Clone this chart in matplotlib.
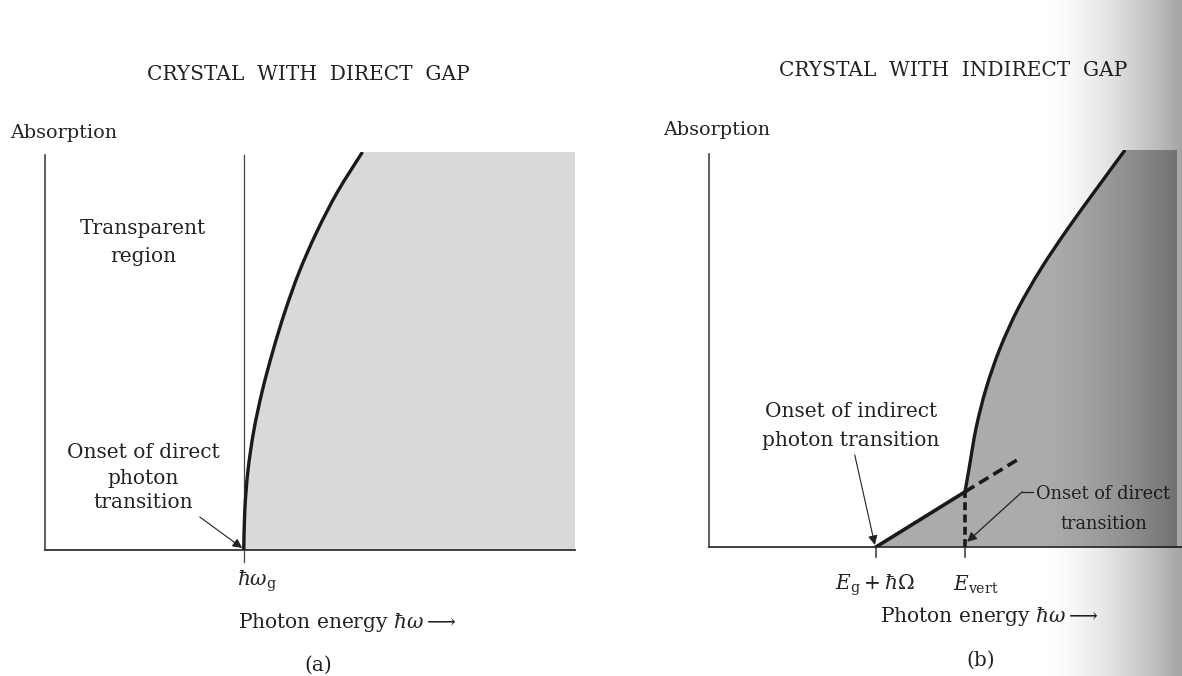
import numpy as np
import matplotlib
matplotlib.use("Agg")
import matplotlib.pyplot as plt
from matplotlib.path import Path
from matplotlib.patches import PathPatch

# Absorption curves (photon energy in arbitrary units, absorption 0..10)
# (a) direct gap
direct_gap = 3.75
direct_e = [3.75, 3.77, 3.83, 3.94, 4.10, 4.30, 4.53, 4.80, 5.13, 5.52, 5.99]
direct_a = [0.0, 1.0, 2.0, 3.0, 4.0, 5.0, 6.0, 7.0, 8.0, 9.0, 10.0]
direct_emax = 10.0

# (b) indirect gap
indirect_onset = 3.15           # E_g + hbar*Omega
e_vert = 4.83
indirect_e = [3.15, 4.83]
indirect_a = [0.00, 1.39]
phonon_ext_e = [4.83, 5.81]     # dashed continuation of the indirect branch
phonon_ext_a = [1.39, 2.19]
vert_e = [4.83, 4.91, 5.04, 5.23, 5.49, 5.83, 6.26, 6.76, 7.30, 7.85]
vert_a = [1.39, 2.0, 3.0, 4.0, 5.0, 6.0, 7.0, 8.0, 9.0, 10.0]
indirect_emax = 8.83

W, H = 1182, 676
plt.rcParams['font.family'] = ['DejaVu Serif']
plt.rcParams['mathtext.fontset'] = 'dejavuserif'
FS = 14.5

fig = plt.figure(figsize=(W / 100, H / 100), dpi=100)
fig.patch.set_facecolor('white')


def fx(x):
    return x / W


def fy(y):
    return 1 - y / H


def txt(x, y, s, **kw):
    kw.setdefault('fontsize', FS)
    kw.setdefault('va', 'center')
    fig.text(fx(x), fy(y), s, color='#222222', **kw)


def smooth_verts(xs, ys):
    # Bezier segments through the read points (Catmull-Rom tangents)
    p = np.column_stack([xs, ys]).astype(float)
    q = np.vstack([p[0], p, p[-1]])
    verts = [p[0]]
    codes = [Path.MOVETO]
    for i in range(1, len(q) - 2):
        c1 = q[i] + (q[i + 1] - q[i - 1]) / 6
        c2 = q[i + 1] - (q[i + 2] - q[i]) / 6
        verts += [c1, c2, q[i + 1]]
        codes += [Path.CURVE4] * 3
    return verts, codes


def curve_and_fill(ax, xs, ys, start, corners, fill_color, lw):
    v, c = smooth_verts(xs, ys)
    line = Path(v, c)
    if start is not None:
        fv = [start, v[0]] + v[1:]
        fc = [Path.MOVETO, Path.LINETO] + c[1:]
    else:
        fv, fc = list(v), list(c)
    for pt in corners:
        fv.append(pt)
        fc.append(Path.LINETO)
    fv.append(fv[0])
    fc.append(Path.CLOSEPOLY)
    ax.add_patch(PathPatch(Path(fv, fc), facecolor=fill_color, lw=0, zorder=1))
    ax.add_patch(PathPatch(line, facecolor='none', edgecolor='#1a1a1a', lw=lw,
                           capstyle='butt', zorder=3))


# ---------------- panel (a) ----------------
axa = fig.add_axes([fx(45), fy(550), fx(575 - 45), (550 - 152) / H])
axa.set_xlim(0, 10)
axa.set_ylim(0, 10)
axa.axis('off')

curve_and_fill(axa, direct_e, direct_a, None,
               [(direct_emax, 10.0), (direct_emax, 0.0)], '#d9d9d9', 2.4)
axa.plot([0, 0], [0, 9.92], color='#333333', lw=1.1, clip_on=False, zorder=2)
axa.plot([0, direct_emax], [0, 0], color='#333333', lw=1.3, clip_on=False, zorder=2)
axa.plot([direct_gap, direct_gap], [-0.3, 9.92], color='#444444', lw=0.9, clip_on=False, zorder=2)
axa.annotate('', xy=(direct_gap - 0.03, 0.05), xytext=(2.92, 0.83),
             arrowprops=dict(arrowstyle='-|>', color='#222222', lw=0.8,
                             mutation_scale=14, shrinkA=0, shrinkB=0))

txt(308, 75, 'CRYSTAL  WITH  DIRECT  GAP', ha='center')
txt(10, 133, 'Absorption', ha='left', fontsize=13.8)
txt(143, 229, 'Transparent', ha='center')
txt(143, 257, 'region', ha='center')
txt(143, 452, 'Onset of direct', ha='center')
txt(143, 478, 'photon', ha='center')
txt(143, 503, 'transition', ha='center')
txt(237, 581, r'$\hbar\omega_\mathrm{g}$', ha='left')
txt(238, 622, r'Photon energy $\hbar\omega\longrightarrow$', ha='left')
txt(318, 665, '(a)', ha='center')

# ---------------- panel (b) ----------------
axb = fig.add_axes([fx(709), fy(547), fx(W - 709), (547 - 150) / H])
axb.set_xlim(0, (W - 709) / 53)
axb.set_ylim(0, 10)
axb.axis('off')

curve_and_fill(axb, vert_e, vert_a, (indirect_e[0], indirect_a[0]),
               [(indirect_emax, 10.0), (indirect_emax, 0.0)], '#ababab', 2.4)
axb.plot(indirect_e, indirect_a, color='#1a1a1a', lw=2.6, zorder=3)
axb.plot(phonon_ext_e, phonon_ext_a, color='#1a1a1a', lw=2.6, ls=(0, (3, 1.6)), zorder=3)
axb.plot([e_vert, e_vert], [0, indirect_a[1]], color='#1a1a1a', lw=2.6, ls=(0, (2.2, 1.2)), zorder=3)
axb.plot([0, 0], [0, 9.9], color='#333333', lw=1.1, clip_on=False, zorder=2)
axb.plot([0, (W - 709) / 53], [0, 0], color='#333333', lw=1.3, clip_on=False, zorder=2)
for e in (indirect_onset, e_vert):
    axb.plot([e, e], [-0.25, 0], color='#333333', lw=1.1, clip_on=False, zorder=2)

axb.annotate('', xy=(indirect_onset - 0.02, 0.05), xytext=(2.75, 2.32),
             arrowprops=dict(arrowstyle='-|>', color='#222222', lw=0.8,
                             mutation_scale=14, shrinkA=0, shrinkB=0))
axb.plot([5.91, 6.12], [1.39, 1.39], color='#222222', lw=0.9, zorder=4)
axb.annotate('', xy=(e_vert + 0.04, 0.13), xytext=(5.91, 1.39),
             arrowprops=dict(arrowstyle='-|>', color='#222222', lw=0.9,
                             mutation_scale=14, shrinkA=0, shrinkB=0), zorder=4)

txt(953, 70, 'CRYSTAL  WITH  INDIRECT  GAP', ha='center')
txt(663, 130, 'Absorption', ha='left', fontsize=13.8)
txt(851, 411, 'Onset of indirect', ha='center')
txt(851, 440, 'photon transition', ha='center')
txt(1036, 494, 'Onset of direct', ha='left', fontsize=12.8)
txt(1104, 524, 'transition', ha='center', fontsize=12.8)
txt(835, 585, r'$E_\mathrm{g}+\hbar\Omega$', ha='left')
txt(953, 585, r'$E_\mathrm{vert}$', ha='left')
txt(880, 617, r'Photon energy $\hbar\omega\longrightarrow$', ha='left')
txt(981, 660, '(b)', ha='center')

# page-curl shadow at the right edge of the scan
sh = fig.add_axes([0, 0, 1, 1], zorder=10)
sh.set_xlim(0, W)
sh.set_ylim(H, 0)
sh.axis('off')
xs = np.linspace(1040, W, 200)
alpha = 0.36 * ((xs - 1040) / (W - 1040)) ** 1.6
grad = np.zeros((1, len(xs), 4))
grad[0, :, 3] = alpha
sh.imshow(grad, extent=[1040, W, H, 0], aspect='auto', interpolation='bilinear')

fig.savefig('out.png', dpi=100, facecolor='white')
